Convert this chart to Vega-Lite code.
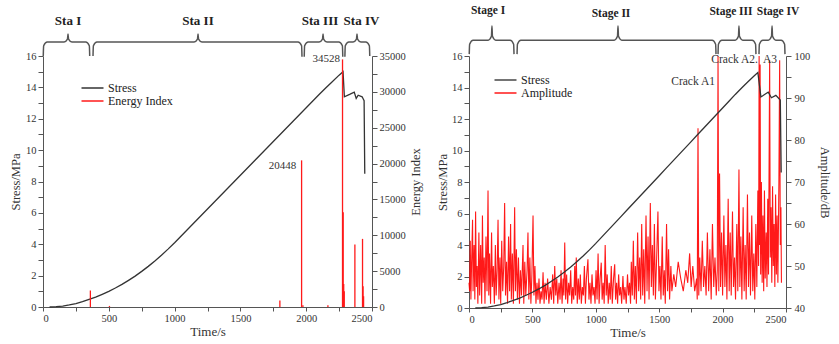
{
"$schema": "https://vega.github.io/schema/vega-lite/v6.json",
"padding": {"left": 9, "top": 4, "right": 5, "bottom": 0},
"bounds": "flush",
"spacing": 97,
"config": {
  "view": {"stroke": null},
  "axis": {"labelFont": "Liberation Serif", "titleFont": "Liberation Serif", "labelFontSize": 10.5, "titleFontSize": 13, "titleFontWeight": "normal", "labelColor": "#333", "titleColor": "#333", "domainColor": "#555", "tickColor": "#555", "grid": false, "labelOverlap": false},
  "text": {"font": "Liberation Serif"}
},
"datasets": {
  "stressL": [
    {"t":50,"s":0},{"t":100,"s":0.02},{"t":150,"s":0.06},{"t":200,"s":0.13},{"t":250,"s":0.22},{"t":300,"s":0.34},{"t":350,"s":0.48},{"t":400,"s":0.63},{"t":450,"s":0.81},{"t":500,"s":1.0},{"t":550,"s":1.21},{"t":600,"s":1.44},{"t":650,"s":1.7},{"t":700,"s":1.97},{"t":750,"s":2.27},{"t":800,"s":2.59},{"t":850,"s":2.93},{"t":900,"s":3.3},{"t":950,"s":3.69},{"t":1000,"s":4.1},{"t":1050,"s":4.53},{"t":1100,"s":4.96},{"t":1150,"s":5.39},{"t":1200,"s":5.82},{"t":1250,"s":6.25},{"t":1300,"s":6.68},{"t":1350,"s":7.11},{"t":1400,"s":7.54},{"t":1450,"s":7.97},{"t":1500,"s":8.4},{"t":1550,"s":8.83},{"t":1600,"s":9.26},{"t":1650,"s":9.69},{"t":1700,"s":10.12},{"t":1750,"s":10.55},{"t":1800,"s":10.98},{"t":1850,"s":11.41},{"t":1900,"s":11.84},{"t":1950,"s":12.27},{"t":2000,"s":12.7},{"t":2050,"s":13.13},{"t":2100,"s":13.56},{"t":2150,"s":13.98},{"t":2200,"s":14.38},{"t":2250,"s":14.78},{"t":2280,"s":15.0},
    {"t":2290,"s":13.4},{"t":2330,"s":13.55},{"t":2365,"s":13.7},{"t":2380,"s":13.3},{"t":2395,"s":13.5},{"t":2425,"s":13.4},{"t":2440,"s":13.15},{"t":2445,"s":8.5}
  ],
  "stressR": [
    {"t":50,"s":0},{"t":100,"s":0.02},{"t":150,"s":0.06},{"t":200,"s":0.13},{"t":250,"s":0.22},{"t":300,"s":0.34},{"t":350,"s":0.48},{"t":400,"s":0.63},{"t":450,"s":0.81},{"t":500,"s":1.0},{"t":550,"s":1.21},{"t":600,"s":1.44},{"t":650,"s":1.7},{"t":700,"s":1.97},{"t":750,"s":2.27},{"t":800,"s":2.59},{"t":850,"s":2.93},{"t":900,"s":3.3},{"t":950,"s":3.69},{"t":1000,"s":4.1},{"t":1050,"s":4.53},{"t":1100,"s":4.96},{"t":1150,"s":5.39},{"t":1200,"s":5.82},{"t":1250,"s":6.25},{"t":1300,"s":6.68},{"t":1350,"s":7.11},{"t":1400,"s":7.54},{"t":1450,"s":7.97},{"t":1500,"s":8.4},{"t":1550,"s":8.83},{"t":1600,"s":9.26},{"t":1650,"s":9.69},{"t":1700,"s":10.12},{"t":1750,"s":10.55},{"t":1800,"s":10.98},{"t":1850,"s":11.41},{"t":1900,"s":11.84},{"t":1950,"s":12.27},{"t":2000,"s":12.7},{"t":2050,"s":13.13},{"t":2100,"s":13.56},{"t":2150,"s":13.97},{"t":2200,"s":14.36},{"t":2250,"s":14.75},{"t":2278,"s":14.95},
    {"t":2302,"s":13.4},{"t":2340,"s":13.6},{"t":2360,"s":13.7},{"t":2385,"s":13.35},{"t":2420,"s":13.5},{"t":2455,"s":13.2},{"t":2462,"s":8.6}
  ],
  "energy": [
    {"t":360,"e":2300},{"t":505,"e":150},{"t":1800,"e":900},{"t":1965,"e":20448},{"t":1975,"e":250},{"t":2165,"e":250},{"t":2276,"e":34528},{"t":2281,"e":13200},{"t":2285,"e":3200},{"t":2289,"e":2200},{"t":2370,"e":8700},{"t":2428,"e":9500},{"t":2432,"e":2900},{"t":2436,"e":1500}
  ],
  "amp": [
    {"t":0,"a":46},{"t":5,"a":44},{"t":10,"a":56},{"t":15,"a":42},{"t":20,"a":50},{"t":28,"a":61},{"t":32,"a":44},{"t":40,"a":55},{"t":46,"a":42},{"t":52,"a":63},{"t":58,"a":45},{"t":64,"a":50},{"t":70,"a":41},{"t":78,"a":58},{"t":84,"a":43},{"t":92,"a":55},{"t":100,"a":41},{"t":106,"a":62},{"t":112,"a":46},{"t":120,"a":52},{"t":126,"a":41},{"t":134,"a":57},{"t":142,"a":44},{"t":150,"a":68},{"t":156,"a":43},{"t":162,"a":53},{"t":170,"a":41},{"t":178,"a":58},{"t":184,"a":45},{"t":192,"a":50},{"t":200,"a":41},{"t":208,"a":55},{"t":214,"a":43},{"t":222,"a":49},{"t":229,"a":61},{"t":236,"a":42},{"t":244,"a":52},{"t":250,"a":41},{"t":258,"a":56},{"t":266,"a":44},{"t":274,"a":50},{"t":281,"a":65},{"t":288,"a":43},{"t":296,"a":51},{"t":304,"a":41},{"t":312,"a":57},{"t":320,"a":44},{"t":328,"a":60},{"t":334,"a":42},{"t":342,"a":53},{"t":350,"a":41},{"t":360,"a":64},{"t":366,"a":44},{"t":374,"a":54},{"t":382,"a":42},{"t":390,"a":52},{"t":398,"a":41},{"t":406,"a":49},{"t":414,"a":43},{"t":426,"a":55},{"t":432,"a":41},{"t":440,"a":51},{"t":448,"a":43},{"t":458,"a":49},{"t":465,"a":58},{"t":472,"a":42},{"t":480,"a":52},{"t":488,"a":41},{"t":496,"a":48},{"t":505,"a":62},{"t":512,"a":43},{"t":520,"a":50},{"t":528,"a":41},{"t":536,"a":46},{"t":544,"a":42},{"t":552,"a":47},{"t":560,"a":41},{"t":568,"a":44},{"t":576,"a":42},{"t":584,"a":48.5},{"t":592,"a":41},{"t":600,"a":46},{"t":610,"a":42},{"t":620,"a":47},{"t":630,"a":41},{"t":640,"a":45},{"t":650,"a":42},{"t":660,"a":48},{"t":668,"a":41},{"t":676,"a":50},{"t":684,"a":43},{"t":692,"a":47},{"t":700,"a":41},{"t":710,"a":46},{"t":718,"a":42},{"t":726,"a":49},{"t":734,"a":41},{"t":742,"a":47},{"t":748,"a":43},{"t":755,"a":55.6},{"t":762,"a":42},{"t":770,"a":48},{"t":778,"a":41},{"t":786,"a":46},{"t":794,"a":43},{"t":802,"a":49},{"t":810,"a":41},{"t":818,"a":45},{"t":826,"a":42},{"t":834,"a":50},{"t":840,"a":43},{"t":846,"a":52},{"t":854,"a":41},{"t":862,"a":47},{"t":870,"a":42},{"t":878,"a":48},{"t":886,"a":41},{"t":894,"a":45},{"t":902,"a":43},{"t":910,"a":50},{"t":918,"a":41},{"t":926,"a":47},{"t":938,"a":51.6},{"t":946,"a":42},{"t":954,"a":46},{"t":962,"a":41},{"t":970,"a":48},{"t":978,"a":43},{"t":986,"a":45},{"t":994,"a":41},{"t":1002,"a":49},{"t":1010,"a":42},{"t":1018,"a":53},{"t":1026,"a":41},{"t":1034,"a":47},{"t":1043,"a":50.8},{"t":1050,"a":42},{"t":1058,"a":46},{"t":1066,"a":41},{"t":1074,"a":55},{"t":1082,"a":43},{"t":1090,"a":48},{"t":1098,"a":41},{"t":1106,"a":46},{"t":1114,"a":42},{"t":1122,"a":50},{"t":1130,"a":41},{"t":1140,"a":47},{"t":1149,"a":50.4},{"t":1156,"a":42},{"t":1164,"a":46},{"t":1172,"a":41},{"t":1180,"a":48},{"t":1188,"a":43},{"t":1196,"a":45},{"t":1204,"a":41},{"t":1214,"a":47.6},{"t":1222,"a":42},{"t":1230,"a":45},{"t":1240,"a":41},{"t":1250,"a":48},{"t":1258,"a":43},{"t":1266,"a":46},{"t":1274,"a":41},{"t":1280,"a":51},{"t":1288,"a":43},{"t":1296,"a":56},{"t":1304,"a":42},{"t":1312,"a":50},{"t":1320,"a":41},{"t":1330,"a":58},{"t":1338,"a":44},{"t":1346,"a":52},{"t":1354,"a":42},{"t":1362,"a":60},{"t":1370,"a":43},{"t":1378,"a":54},{"t":1386,"a":41},{"t":1396,"a":62},{"t":1404,"a":44},{"t":1412,"a":57},{"t":1420,"a":42},{"t":1430,"a":65},{"t":1438,"a":45},{"t":1446,"a":55},{"t":1454,"a":43},{"t":1462,"a":60},{"t":1470,"a":42},{"t":1480,"a":52},{"t":1490,"a":63},{"t":1498,"a":44},{"t":1506,"a":50},{"t":1514,"a":42},{"t":1524,"a":57},{"t":1532,"a":43},{"t":1540,"a":49},{"t":1548,"a":41},{"t":1558,"a":60},{"t":1566,"a":44},{"t":1574,"a":54},{"t":1582,"a":42},{"t":1592,"a":50},{"t":1600,"a":44},{"t":1615,"a":48},{"t":1630,"a":45},{"t":1650,"a":51},{"t":1670,"a":47},{"t":1690,"a":44},{"t":1710,"a":49},{"t":1725,"a":46},{"t":1740,"a":53},{"t":1752,"a":45},{"t":1765,"a":50},{"t":1780,"a":44},{"t":1795,"a":47},{"t":1800,"a":42},{"t":1806,"a":82.8},{"t":1812,"a":43},{"t":1820,"a":52},{"t":1830,"a":44},{"t":1840,"a":56},{"t":1850,"a":45},{"t":1860,"a":50},{"t":1870,"a":43},{"t":1880,"a":58},{"t":1890,"a":44},{"t":1900,"a":54},{"t":1910,"a":42},{"t":1920,"a":60},{"t":1930,"a":45},{"t":1940,"a":52},{"t":1950,"a":43},{"t":1958,"a":49},{"t":1964,"a":100},{"t":1970,"a":44},{"t":1976,"a":72},{"t":1984,"a":45},{"t":1992,"a":58},{"t":2000,"a":43},{"t":2010,"a":62},{"t":2018,"a":45},{"t":2026,"a":55},{"t":2034,"a":42},{"t":2044,"a":66},{"t":2052,"a":44},{"t":2060,"a":58},{"t":2068,"a":43},{"t":2078,"a":63},{"t":2086,"a":45},{"t":2094,"a":52},{"t":2102,"a":42},{"t":2112,"a":60},{"t":2120,"a":44},{"t":2129,"a":73},{"t":2136,"a":45},{"t":2144,"a":57},{"t":2152,"a":42},{"t":2162,"a":64},{"t":2170,"a":44},{"t":2178,"a":55},{"t":2186,"a":42},{"t":2196,"a":67},{"t":2204,"a":45},{"t":2212,"a":58},{"t":2220,"a":43},{"t":2230,"a":62},{"t":2238,"a":44},{"t":2246,"a":53},{"t":2254,"a":42},{"t":2262,"a":60},{"t":2270,"a":45},{"t":2278,"a":68},{"t":2284,"a":50},{"t":2288,"a":100},{"t":2292,"a":55},{"t":2296,"a":98},{"t":2300,"a":48},{"t":2306,"a":70},{"t":2312,"a":46},{"t":2318,"a":62},{"t":2324,"a":44},{"t":2330,"a":68},{"t":2336,"a":47},{"t":2344,"a":58},{"t":2350,"a":45},{"t":2356,"a":66},{"t":2362,"a":48},{"t":2371,"a":99},{"t":2376,"a":52},{"t":2382,"a":64},{"t":2388,"a":46},{"t":2394,"a":69},{"t":2400,"a":50},{"t":2406,"a":60},{"t":2412,"a":45},{"t":2418,"a":67},{"t":2424,"a":48},{"t":2430,"a":62},{"t":2436,"a":46},{"t":2444,"a":70},{"t":2450,"a":99},{"t":2455,"a":55},{"t":2460,"a":64},{"t":2464,"a":46}
  ],
  "bracesL": [
    {"b":"I","i":1,"t":2,"s":16.0},{"b":"I","i":2,"t":5,"s":16.65},{"b":"I","i":3,"t":32,"s":16.89},{"b":"I","i":4,"t":160,"s":16.89},{"b":"I","i":5,"t":186,"s":17.08},{"b":"I","i":6,"t":190,"s":17.4},{"b":"I","i":7,"t":194,"s":17.08},{"b":"I","i":8,"t":220,"s":16.89},{"b":"I","i":9,"t":325,"s":16.89},{"b":"I","i":10,"t":352,"s":16.65},{"b":"I","i":11,"t":355,"s":16.0},
    {"b":"II","i":1,"t":380,"s":16.0},{"b":"II","i":2,"t":383,"s":16.65},{"b":"II","i":3,"t":410,"s":16.89},{"b":"II","i":4,"t":1148,"s":16.89},{"b":"II","i":5,"t":1174,"s":17.08},{"b":"II","i":6,"t":1178,"s":17.4},{"b":"II","i":7,"t":1182,"s":17.08},{"b":"II","i":8,"t":1208,"s":16.89},{"b":"II","i":9,"t":1938,"s":16.89},{"b":"II","i":10,"t":1965,"s":16.65},{"b":"II","i":11,"t":1968,"s":15.95},
    {"b":"III","i":1,"t":1985,"s":15.95},{"b":"III","i":2,"t":1988,"s":16.65},{"b":"III","i":3,"t":2015,"s":16.89},{"b":"III","i":4,"t":2098,"s":16.89},{"b":"III","i":5,"t":2124,"s":17.08},{"b":"III","i":6,"t":2128,"s":17.4},{"b":"III","i":7,"t":2132,"s":17.08},{"b":"III","i":8,"t":2158,"s":16.89},{"b":"III","i":9,"t":2248,"s":16.89},{"b":"III","i":10,"t":2275,"s":16.65},{"b":"III","i":11,"t":2278,"s":15.95},
    {"b":"IV","i":1,"t":2294,"s":15.95},{"b":"IV","i":2,"t":2297,"s":16.65},{"b":"IV","i":3,"t":2324,"s":16.89},{"b":"IV","i":4,"t":2356,"s":16.89},{"b":"IV","i":5,"t":2382,"s":17.08},{"b":"IV","i":6,"t":2386,"s":17.4},{"b":"IV","i":7,"t":2390,"s":17.08},{"b":"IV","i":8,"t":2416,"s":16.89},{"b":"IV","i":9,"t":2453,"s":16.89},{"b":"IV","i":10,"t":2480,"s":16.65},{"b":"IV","i":11,"t":2483,"s":16.0}
  ],
  "bracesR": [
    {"b":"I","i":1,"t":2,"s":16.12},{"b":"I","i":2,"t":5,"s":16.75},{"b":"I","i":3,"t":32,"s":17.0},{"b":"I","i":4,"t":151,"s":17.0},{"b":"I","i":5,"t":177,"s":17.25},{"b":"I","i":6,"t":181,"s":17.9},{"b":"I","i":7,"t":185,"s":17.25},{"b":"I","i":8,"t":211,"s":17.0},{"b":"I","i":9,"t":325,"s":17.0},{"b":"I","i":10,"t":352,"s":16.75},{"b":"I","i":11,"t":355,"s":16.12},
    {"b":"II","i":1,"t":379,"s":16.12},{"b":"II","i":2,"t":382,"s":16.75},{"b":"II","i":3,"t":409,"s":17.0},{"b":"II","i":4,"t":1145,"s":17.0},{"b":"II","i":5,"t":1171,"s":17.25},{"b":"II","i":6,"t":1175,"s":17.9},{"b":"II","i":7,"t":1179,"s":17.25},{"b":"II","i":8,"t":1205,"s":17.0},{"b":"II","i":9,"t":1918,"s":17.0},{"b":"II","i":10,"t":1945,"s":16.75},{"b":"II","i":11,"t":1948,"s":16.12},
    {"b":"III","i":1,"t":1964,"s":16.12},{"b":"III","i":2,"t":1967,"s":16.75},{"b":"III","i":3,"t":1994,"s":17.0},{"b":"III","i":4,"t":2099,"s":17.0},{"b":"III","i":5,"t":2125,"s":17.25},{"b":"III","i":6,"t":2129,"s":17.9},{"b":"III","i":7,"t":2133,"s":17.25},{"b":"III","i":8,"t":2159,"s":17.0},{"b":"III","i":9,"t":2233,"s":17.0},{"b":"III","i":10,"t":2260,"s":16.75},{"b":"III","i":11,"t":2263,"s":16.12},
    {"b":"IV","i":1,"t":2287,"s":16.12},{"b":"IV","i":2,"t":2290,"s":16.75},{"b":"IV","i":3,"t":2317,"s":17.0},{"b":"IV","i":4,"t":2360,"s":17.0},{"b":"IV","i":5,"t":2386,"s":17.25},{"b":"IV","i":6,"t":2390,"s":17.9},{"b":"IV","i":7,"t":2394,"s":17.25},{"b":"IV","i":8,"t":2420,"s":17.0},{"b":"IV","i":9,"t":2462,"s":17.0},{"b":"IV","i":10,"t":2489,"s":16.75},{"b":"IV","i":11,"t":2492,"s":16.12}
  ],
  "stageL": [
    {"t":190,"s":18.23,"txt":"Sta I"},{"t":1178,"s":18.23,"txt":"Sta II"},{"t":2105,"s":18.23,"txt":"Sta III"},{"t":2420,"s":18.23,"txt":"Sta IV"}
  ],
  "stageR": [
    {"t":150,"s":18.88,"txt":"Stage I"},{"t":1120,"s":18.67,"txt":"Stage II"},{"t":2066,"s":18.77,"txt":"Stage III"},{"t":2437,"s":18.77,"txt":"Stage IV"}
  ],
  "annL": [
    {"t":1925,"e":19700,"txt":"20448"},{"t":2257,"e":34580,"txt":"34528"}
  ],
  "annRr": [
    {"t":1940,"a":93.9,"txt":"Crack A1"},{"t":2279,"a":99.05,"txt":"Crack A2."}
  ],
  "annRl": [
    {"t":2319,"a":99.05,"txt":"A3"}
  ]
},
"hconcat": [
  {
    "width": 329, "height": 251,
    "layer": [
      {"layer": [
        {"data": {"name": "stressL"}, "mark": {"type": "line", "strokeWidth": 1.3},
         "encoding": {
           "x": {"field": "t", "type": "quantitative", "scale": {"domain": [0, 2500], "nice": false},
                 "axis": {"title": "Time/s", "values": [0,250,500,750,1000,1250,1500,1750,2000,2250,2500], "tickCount": 100, "format": "d", "labelExpr": "datum.value % 500 == 0 ? datum.label : ''", "labelOverlap": false, "tickSize": 4, "labelPadding": 2, "titlePadding": 2}},
           "y": {"field": "s", "type": "quantitative", "scale": {"domain": [0, 16], "nice": false},
                 "axis": {"title": "Stress/MPa", "orient": "left", "values": [0,1,2,3,4,5,6,7,8,9,10,11,12,13,14,15,16], "tickCount": 100, "format": "d", "labelExpr": "datum.value % 2 == 0 ? datum.label : ''", "labelOverlap": false, "tickSize": 5, "labelPadding": 2, "titlePadding": 3, "titleFontSize": 12.5}},
           "color": {"datum": "Stress", "scale": {"domain": ["Stress", "Energy Index"], "range": ["#333333", "#ff1a1a"]},
                     "legend": {"title": null, "orient": "none", "legendX": 43, "legendY": 25.5, "symbolType": "M-2,0H2", "symbolSize": 121, "symbolStrokeWidth": 1.5, "labelOffset": 9, "labelFont": "Liberation Serif", "labelFontSize": 12, "labelColor": "#222", "rowPadding": 0, "padding": 0}}
         }},
        {"data": {"name": "bracesL"}, "mark": {"type": "line", "color": "#555", "strokeWidth": 1.5, "interpolate": "monotone"},
         "encoding": {
           "x": {"field": "t", "type": "quantitative", "scale": {"domain": [0, 2500], "nice": false}, "title": "Time/s"},
           "y": {"field": "s", "type": "quantitative", "scale": {"domain": [0, 16], "nice": false}, "title": "Stress/MPa"},
           "detail": {"field": "b"}, "order": {"field": "i"}
         }},
        {"data": {"name": "stageL"}, "mark": {"type": "text", "fontWeight": "bold", "fontSize": 13, "color": "#222", "baseline": "middle"},
         "encoding": {
           "x": {"field": "t", "type": "quantitative", "scale": {"domain": [0, 2500], "nice": false}, "title": "Time/s"},
           "y": {"field": "s", "type": "quantitative", "scale": {"domain": [0, 16], "nice": false}, "title": "Stress/MPa"},
           "text": {"field": "txt"}
         }}
      ]},
      {"layer": [
        {"data": {"name": "energy"}, "mark": {"type": "rule", "strokeWidth": 1.3},
         "encoding": {
           "x": {"field": "t", "type": "quantitative", "scale": {"domain": [0, 2500], "nice": false}, "title": "Time/s"},
           "y": {"field": "e", "type": "quantitative", "scale": {"domain": [0, 35000], "nice": false},
                 "axis": {"title": "Energy Index", "orient": "right", "titleAngle": 270, "titleBaseline": "top", "values": [0,2500,5000,7500,10000,12500,15000,17500,20000,22500,25000,27500,30000,32500,35000], "tickCount": 100, "format": "d", "labelExpr": "datum.value % 5000 == 0 ? datum.label : ''", "labelOverlap": false, "tickSize": 5, "labelPadding": 2, "titlePadding": 4, "titleFontSize": 12.5}},
           "y2": {"datum": 0},
           "color": {"datum": "Energy Index"}
         }},
        {"data": {"name": "annL"}, "mark": {"type": "text", "fontSize": 11, "color": "#333", "align": "right", "baseline": "middle"},
         "encoding": {
           "x": {"field": "t", "type": "quantitative", "scale": {"domain": [0, 2500], "nice": false}, "title": "Time/s"},
           "y": {"field": "e", "type": "quantitative", "scale": {"domain": [0, 35000], "nice": false}, "title": "Energy Index"},
           "text": {"field": "txt"}
         }}
      ]}
    ],
    "resolve": {"scale": {"y": "independent"}}
  },
  {
    "width": 317, "height": 252,
    "layer": [
      {"layer": [
        {"data": {"name": "amp"}, "mark": {"type": "line", "strokeWidth": 1.1, "opacity": 0.9},
         "encoding": {
           "x": {"field": "t", "type": "quantitative", "scale": {"domain": [0, 2500], "nice": false},
                 "axis": {"title": "Time/s", "values": [0,250,500,750,1000,1250,1500,1750,2000,2250,2500], "tickCount": 100, "format": "d", "labelExpr": "datum.value % 500 == 0 ? datum.label : ''", "labelOverlap": false, "tickSize": 4, "labelPadding": 2, "titlePadding": 2}},
           "y": {"field": "a", "type": "quantitative", "scale": {"domain": [40, 100], "nice": false},
                 "axis": {"title": "Amplitude/dB", "orient": "right", "titleAngle": 90, "values": [40,45,50,55,60,65,70,75,80,85,90,95,100], "tickCount": 100, "format": "d", "labelExpr": "datum.value % 10 == 0 ? datum.label : ''", "labelOverlap": false, "tickSize": 5, "labelPadding": 3, "titlePadding": 8, "titleFontSize": 12.5}},
           "color": {"datum": "Amplitude", "scale": {"domain": ["Stress", "Amplitude"], "range": ["#333333", "#ff0000"]},
                     "legend": {"title": null, "orient": "none", "legendX": 30, "legendY": 17.5, "symbolType": "M-2,0H2", "symbolSize": 121, "symbolStrokeWidth": 1.5, "labelOffset": 9, "labelFont": "Liberation Serif", "labelFontSize": 12, "labelColor": "#222", "rowPadding": 0, "padding": 0}}
         }},
        {"data": {"name": "annRr"}, "mark": {"type": "text", "fontSize": 11.5, "color": "#333", "align": "right", "baseline": "middle"},
         "encoding": {
           "x": {"field": "t", "type": "quantitative", "scale": {"domain": [0, 2500], "nice": false}, "title": "Time/s"},
           "y": {"field": "a", "type": "quantitative", "scale": {"domain": [40, 100], "nice": false}, "title": "Amplitude/dB"},
           "text": {"field": "txt"}
         }},
        {"data": {"name": "annRl"}, "mark": {"type": "text", "fontSize": 11.5, "color": "#333", "align": "left", "baseline": "middle"},
         "encoding": {
           "x": {"field": "t", "type": "quantitative", "scale": {"domain": [0, 2500], "nice": false}, "title": "Time/s"},
           "y": {"field": "a", "type": "quantitative", "scale": {"domain": [40, 100], "nice": false}, "title": "Amplitude/dB"},
           "text": {"field": "txt"}
         }}
      ]},
      {"layer": [
        {"data": {"name": "stressR"}, "mark": {"type": "line", "strokeWidth": 1.3},
         "encoding": {
           "x": {"field": "t", "type": "quantitative", "scale": {"domain": [0, 2500], "nice": false}, "title": "Time/s"},
           "y": {"field": "s", "type": "quantitative", "scale": {"domain": [0, 16], "nice": false},
                 "axis": {"title": "Stress/MPa", "orient": "left", "values": [0,1,2,3,4,5,6,7,8,9,10,11,12,13,14,15,16], "tickCount": 100, "format": "d", "labelExpr": "datum.value % 2 == 0 ? datum.label : ''", "labelOverlap": false, "tickSize": 5, "labelPadding": 2, "titlePadding": 2, "titleFontSize": 12.5}},
           "color": {"datum": "Stress"}
         }},
        {"data": {"name": "bracesR"}, "mark": {"type": "line", "color": "#555", "strokeWidth": 1.5, "interpolate": "monotone"},
         "encoding": {
           "x": {"field": "t", "type": "quantitative", "scale": {"domain": [0, 2500], "nice": false}, "title": "Time/s"},
           "y": {"field": "s", "type": "quantitative", "scale": {"domain": [0, 16], "nice": false}, "title": "Stress/MPa"},
           "detail": {"field": "b"}, "order": {"field": "i"}
         }},
        {"data": {"name": "stageR"}, "mark": {"type": "text", "fontWeight": "bold", "fontSize": 11.5, "color": "#222", "baseline": "middle"},
         "encoding": {
           "x": {"field": "t", "type": "quantitative", "scale": {"domain": [0, 2500], "nice": false}, "title": "Time/s"},
           "y": {"field": "s", "type": "quantitative", "scale": {"domain": [0, 16], "nice": false}, "title": "Stress/MPa"},
           "text": {"field": "txt"}
         }}
      ]}
    ],
    "resolve": {"scale": {"y": "independent"}}
  }
],
"resolve": {"scale": {"color": "independent"}, "legend": {"color": "independent"}}
}
